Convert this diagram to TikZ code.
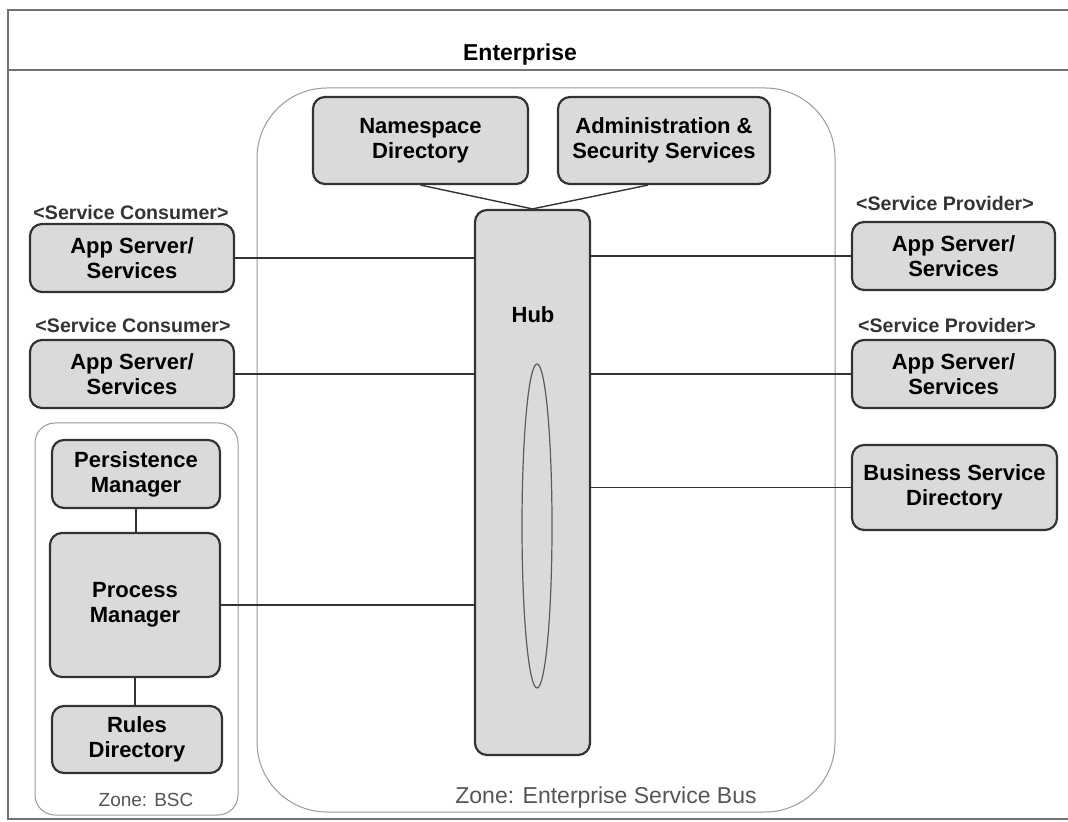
\documentclass[tikz,border=0pt]{standalone}
\usepackage{fontspec}
\setmainfont{Liberation Sans}
\usetikzlibrary{shapes.geometric}
\definecolor{boxfill}{HTML}{DADADA}
\definecolor{boxline}{HTML}{333333}
\definecolor{zoneline}{HTML}{9A9A9A}
\definecolor{zonetext}{HTML}{555555}
\tikzset{
  unit/.style={draw=boxline, line width=1.1pt, fill=boxfill, rounded corners=6pt,
    align=center, inner sep=0pt, font=\fontsize{11}{12.5}\selectfont\bfseries},
  stereo/.style={font=\fontsize{9.8}{11}\selectfont\bfseries, text=boxline, inner sep=0pt},
  zone/.style={draw=zoneline, line width=0.5pt},
  zonelabel/.style={text=zonetext, inner sep=0pt},
  link/.style={draw=boxline, line width=0.7pt},
  frame/.style={draw=black!55, line width=0.7pt}
}
\begin{document}
\begin{tikzpicture}[x=0.5pt,y=-0.5pt]
\useasboundingbox (0,0) rectangle (1068,822);
\fill[white] (0,0) rectangle (1068,822);

% enterprise frame and title band
\draw[frame] (1072,10) -- (8,10) -- (8,819) -- (1072,819);
\draw[frame] (8,70) -- (1072,70);
\node[inner sep=0pt, font=\fontsize{11.5}{13}\selectfont\bfseries] (ent) at (520,55) {Enterprise};

% zones
\draw[zone, rounded corners=35pt] (257,88) rectangle (835,812);
\node[zonelabel, font=\fontsize{11.5}{13}\selectfont] (esbzone) at (606,798) {Zone: Enterprise Service Bus};
\draw[zone, rounded corners=10pt] (35,423) rectangle (238,815);
\node[zonelabel, font=\fontsize{9.5}{11}\selectfont] (bsczone) at (146,800) {Zone: BSC};

% hub
\node[unit, minimum width=57.5pt, minimum height=272.5pt] (hub) at (532.5,482.5) {};
\node[inner sep=0pt, font=\fontsize{11}{12.5}\selectfont\bfseries] (hublabel) at (533,315) {Hub};
\draw[draw=boxline!80, line width=0.6pt, fill=boxfill] (537,526) ellipse [x radius=7.5pt, y radius=81pt];

% bus services
\node[unit, minimum width=107.5pt, minimum height=43.5pt] (ns) at (420.5,140.5) {Namespace\\Directory};
\node[unit, minimum width=106pt, minimum height=43.5pt] (adm) at (664,140.5) {Administration \&\\Security Services};

% consumers
\node[stereo] (c1lab) at (131,213) {<Service Consumer>};
\node[unit, minimum width=102pt, minimum height=34pt] (c1) at (132,258) {App Server/\\Services};
\node[stereo] (c2lab) at (133,325) {<Service Consumer>};
\node[unit, minimum width=102pt, minimum height=34pt] (c2) at (132,374) {App Server/\\Services};

% providers
\node[stereo] (p1lab) at (945,203) {<Service Provider>};
\node[unit, minimum width=101.5pt, minimum height=34pt] (p1) at (953.5,256) {App Server/\\Services};
\node[stereo] (p2lab) at (947,325) {<Service Provider>};
\node[unit, minimum width=101.5pt, minimum height=34pt] (p2) at (953.5,374) {App Server/\\Services};
\node[unit, minimum width=102.5pt, minimum height=42.5pt] (bsd) at (954.5,487.5) {Business Service\\Directory};

% BSC components
\node[unit, minimum width=84pt, minimum height=34pt] (pers) at (136,474) {Persistence\\Manager};
\node[unit, minimum width=85pt, minimum height=72pt] (proc) at (135,605) {Process\\Manager};
\node[unit, minimum width=85pt, minimum height=33.5pt] (rules) at (137,739.5) {Rules\\Directory};

% connectors
\draw[link] (ns.south) -- (hub.north);
\draw[link] ([xshift=-8pt]adm.south) -- (hub.north);
\draw[link] (c1.east) -- (c1.east -| hub.west);
\draw[link] (c2.east) -- (c2.east -| hub.west);
\draw[link] (proc.east) -- (proc.east -| hub.west);
\draw[link] (p1.west -| hub.east) -- (p1.west);
\draw[link] (p2.west -| hub.east) -- (p2.west);
\draw[link] (bsd.west -| hub.east) -- (bsd.west);
\draw[link] (pers.south) -- (pers.south |- proc.north);
\draw[link] (proc.south) -- (proc.south |- rules.north);
\end{tikzpicture}
\end{document}
